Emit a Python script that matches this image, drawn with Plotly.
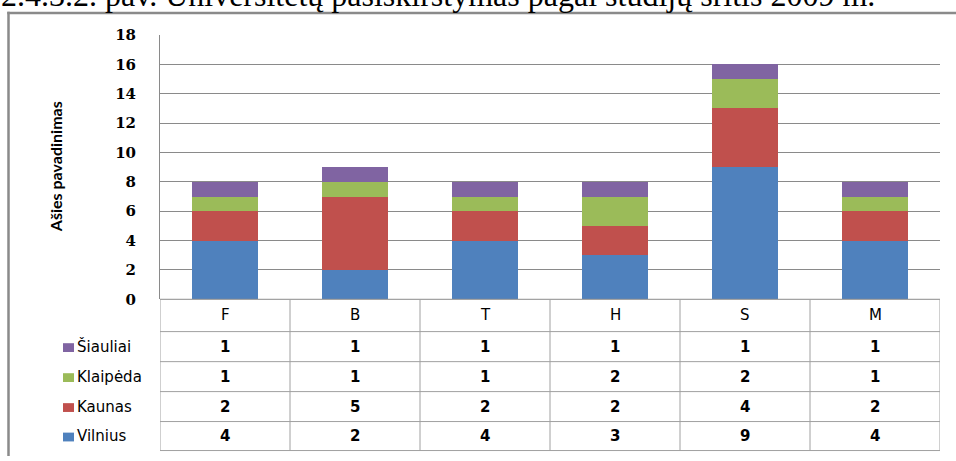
import plotly.graph_objects as go

# ---------------- data ----------------
categories = ["F", "B", "T", "H", "S", "M"]
vilnius = [4, 2, 4, 3, 9, 4]
kaunas = [2, 5, 2, 2, 4, 2]
klaipeda = [1, 1, 1, 2, 2, 1]
siauliai = [1, 1, 1, 1, 1, 1]
series_names = ["Vilnius", "Kaunas", "Klaipėda", "Šiauliai"]
series_values = [vilnius, kaunas, klaipeda, siauliai]
series_colors = ["#4F81BD", "#C0504D", "#9BBB59", "#8064A2"]
y_ticks = [0, 2, 4, 6, 8, 10, 12, 14, 16, 18]
title_text = "2.4.3.2. pav. Universitetų pasiskirstymas pagal studijų sritis 2009 m."
axis_title = "Ašies pavadinimas"

# ---------------- layout geometry (page pixels) ----------------
OFF = 0                      # body margin removed via post_script
PAGE_W, PAGE_H = 956, 461
W, H = PAGE_W - OFF, PAGE_H - OFF
PLOT_L, PLOT_R, PLOT_T = 160, 940, 35
ML = PLOT_L - OFF
MR = W - (PLOT_R - OFF)
MT = PLOT_T - OFF
MB = 0
PW = W - ML - MR
PH = H - MT - MB
AXIS_BOTTOM = 305
row_edges = [305, 338, 368.7, 399.3, 429.9, 459.5]
LEG_X = 53
COL_W = PW / len(categories)


def px(x):
    return (x - OFF - ML) / PW


def py(y):
    return (H - MB - (y - OFF)) / PH


def xcat(xpix):
    return -0.5 + (xpix - PLOT_L) / COL_W


GRID = "#8A8A8A"
TABLE = "#A0A0A0"
BORDER = "#8A8A8A"

fig = go.Figure()
for name, vals, col in zip(series_names, series_values, series_colors):
    fig.add_trace(go.Bar(x=categories, y=vals, name=name, marker=dict(color=col, line=dict(width=0)),
                         showlegend=False, hoverinfo="x+y+name"))

shapes = []
# outer chart border (top and left edges visible)
shapes.append(dict(type="line", xref="paper", yref="paper", x0=px(7.3), x1=px(960), y0=py(12.5), y1=py(12.5),
                   line=dict(color=BORDER, width=2.5), layer="above"))
shapes.append(dict(type="line", xref="paper", yref="paper", x0=px(8.5), x1=px(8.5), y0=py(11.3), y1=py(465),
                   line=dict(color=BORDER, width=2.5), layer="above"))
# table horizontal lines
shapes.append(dict(type="line", xref="x", yref="paper", x0=-0.5, x1=len(categories) - 0.5,
                   y0=py(row_edges[0]), y1=py(row_edges[0]), line=dict(color=GRID, width=1)))
for yy in row_edges[1:]:
    shapes.append(dict(type="line", xref="x", yref="paper", x0=xcat(LEG_X), x1=len(categories) - 0.5,
                       y0=py(yy), y1=py(yy), line=dict(color=TABLE, width=1)))
# table vertical lines
for i in range(len(categories) + 1):
    shapes.append(dict(type="line", xref="x", yref="paper", x0=i - 0.5, x1=i - 0.5,
                       y0=py(row_edges[0]), y1=py(row_edges[-1]), line=dict(color=TABLE, width=1)))
shapes.append(dict(type="line", xref="x", yref="paper", x0=xcat(LEG_X), x1=xcat(LEG_X),
                   y0=py(row_edges[1]), y1=py(row_edges[-1]), line=dict(color=TABLE, width=1)))

annotations = []
# title (partly cut off at top as in the reference)
annotations.append(dict(text=title_text, xref="paper", yref="paper", x=px(-1), y=py(15),
                        xanchor="left", yanchor="bottom", showarrow=False,
                        font=dict(family="Liberation Serif", size=32, color="#000")))
# y axis title
annotations.append(dict(text=axis_title, xref="paper", yref="paper", x=px(55), y=py(170),
                        xanchor="center", yanchor="middle", textangle=-90, showarrow=False,
                        font=dict(family="Lato", size=16, color="#000", weight="bold")))
# header row
hy = (row_edges[0] + row_edges[1]) / 2
for i, c in enumerate(categories):
    annotations.append(dict(text=c, xref="x", yref="paper", x=i, y=py(hy), showarrow=False,
                            xanchor="center", yanchor="middle",
                            font=dict(family="DejaVu Sans", size=15, color="#000")))
# data rows (top row = last series)
for r in range(len(series_names)):
    s = len(series_names) - 1 - r
    cy = (row_edges[r + 1] + row_edges[r + 2]) / 2
    for i, v in enumerate(series_values[s]):
        annotations.append(dict(text=str(v), xref="x", yref="paper", x=i, y=py(cy), showarrow=False,
                                xanchor="center", yanchor="middle",
                                font=dict(family="DejaVu Sans", size=15, color="#000", weight="bold")))
    annotations.append(dict(text=series_names[s], xref="paper", yref="paper", x=px(74.5), y=py(cy),
                            xanchor="left", yanchor="middle", showarrow=False,
                            font=dict(family="DejaVu Sans", size=15, color="#000")))
    shapes.append(dict(type="rect", xref="paper", yref="paper", x0=px(63), x1=px(74),
                       y0=py(cy + 5.5), y1=py(cy - 3.5), line=dict(width=0),
                       fillcolor=series_colors[s]))

fig.update_layout(
    width=W, height=H,
    margin=dict(l=ML, r=MR, t=MT, b=MB, pad=0),
    barmode="stack", bargap=0.49,
    plot_bgcolor="white", paper_bgcolor="white",
    shapes=shapes, annotations=annotations,
    xaxis=dict(type="category", range=[-0.5, len(categories) - 0.5], showticklabels=False,
               showgrid=False, zeroline=False, showline=False, ticks=""),
    yaxis=dict(domain=[py(AXIS_BOTTOM), 1], range=[0, 18], tickvals=y_ticks,
               showgrid=True, gridcolor=GRID, gridwidth=1, zeroline=False,
               showline=True, linecolor=GRID, linewidth=1,
               ticks="outside", ticklen=20, tickcolor="rgba(0,0,0,0)",
               tickfont=dict(family="DejaVu Serif", size=15, color="#000", weight="bold")),
)

fig.write_html("out.html", config={"displayModeBar": False},
               post_script="document.body.style.margin='0';document.body.style.overflow='hidden';")
